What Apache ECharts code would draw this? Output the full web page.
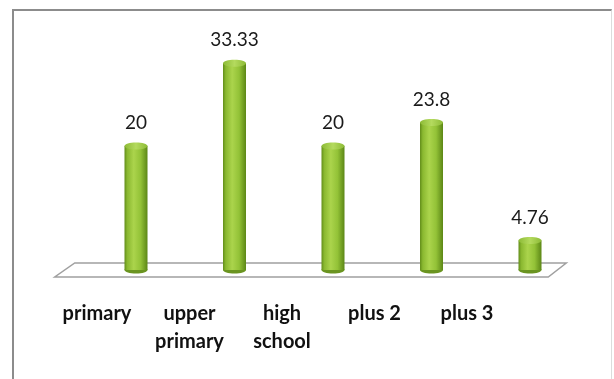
<!DOCTYPE html>
<html>
<head>
<meta charset="utf-8">
<script src="https://cdn.jsdelivr.net/npm/echarts@6/dist/echarts.min.js"></script>
<style>
  html, body { margin: 0; padding: 0; background: #ffffff; }
  #wrap { position: relative; width: 614px; height: 379px; overflow: hidden; }
  #chart { position: absolute; left: 0; top: 0; width: 614px; height: 379px; }
  #frame {
    position: absolute; left: 12px; top: 9px; width: 597px; height: 400px;
    border-left: 2px solid #8c8c8c; border-top: 2px solid #8c8c8c;
    border-right: 1px solid #dcdcdc; pointer-events: none;
  }
</style>
</head>
<body>
<div id="wrap">
  <div id="chart"></div>
  <div id="frame"></div>
</div>
<script>
// Education level shares (%)
const categories = ['primary', 'upper\nprimary', 'high\nschool', 'plus 2', 'plus 3'];
const values = [20, 33.33, 20, 23.8, 4.76];
const valueLabels = ['20', '33.33', '20', '23.8', '4.76'];

const chart = echarts.init(document.getElementById('chart'), null, { renderer: 'canvas' });

// Cylinder column: shaded body, dark base ellipse, light top ellipse, value text
function renderCylinder(params, api) {
  const idx = api.value(0);
  const top = api.coord([idx, api.value(1)]);
  const base = api.coord([idx, 0]);
  const w = 23;
  const ry = 3.5;
  const x = top[0] - w / 2;
  const bodyGrad = new echarts.graphic.LinearGradient(0, 0, 1, 0, [
    { offset: 0, color: '#628d1a' },
    { offset: 0.12, color: '#8ab830' },
    { offset: 0.4, color: '#abd44c' },
    { offset: 0.7, color: '#93c237' },
    { offset: 1, color: '#5c8716' }
  ]);
  return {
    type: 'group',
    children: [
      {
        type: 'ellipse',
        shape: { cx: base[0], cy: base[1], rx: w / 2, ry: ry },
        style: { fill: '#6a9420' }
      },
      {
        type: 'rect',
        shape: { x: x, y: top[1], width: w, height: base[1] - top[1] },
        style: { fill: bodyGrad }
      },
      {
        type: 'ellipse',
        shape: { cx: top[0], cy: top[1], rx: w / 2, ry: ry },
        style: {
          fill: new echarts.graphic.LinearGradient(0, 0, 1, 0, [
            { offset: 0, color: '#8dbb36' },
            { offset: 0.5, color: '#b4da5e' },
            { offset: 1, color: '#8dbb36' }
          ])
        }
      },
      {
        type: 'text',
        style: {
          x: top[0], y: top[1] - 23,
          text: valueLabels[idx],
          fill: '#1a1a1a',
          font: '19px Lato, "Open Sans", sans-serif',
          align: 'center', verticalAlign: 'middle'
        }
      }
    ]
  };
}

// Perspective floor under the columns
function renderFloor(params, api) {
  const cs = params.coordSys;
  const y0 = api.coord([0, 0])[1];
  const x0 = cs.x, x1 = cs.x + cs.width;
  return {
    type: 'polygon',
    shape: {
      points: [
        [x0 - 12, y0 - 7], [x1 - 13, y0 - 7],
        [x1 - 31, y0 + 7], [x0 - 32, y0 + 7]
      ]
    },
    style: { fill: '#ffffff', stroke: '#a0a0a0', lineWidth: 1.5 }
  };
}

const barData = values.map((v, i) => [i, v]);

chart.setOption({
  animation: false,
  backgroundColor: '#ffffff',
  grid: [
    { left: 86.75, right: 614 - 579.25, top: 22, bottom: 109 },
    { left: 50.75, right: 614 - 513.25, top: 22, bottom: 79 }
  ],
  xAxis: [
    {
      type: 'category', gridIndex: 0, data: categories,
      axisLine: { show: false }, axisTick: { show: false },
      axisLabel: { show: false }, splitLine: { show: false }
    },
    {
      type: 'category', gridIndex: 1, data: categories,
      axisLine: { show: false }, axisTick: { show: false },
      axisLabel: {
        margin: 0, color: '#111111', fontWeight: 'bold', fontSize: 20,
        fontFamily: 'Lato, "Open Sans", sans-serif', lineHeight: 28,
        verticalAlign: 'top'
      }
    }
  ],
  yAxis: [
    { type: 'value', gridIndex: 0, min: 0, max: 40, show: false },
    { type: 'value', gridIndex: 1, min: 0, max: 40, show: false }
  ],
  series: [
    {
      type: 'custom', xAxisIndex: 0, yAxisIndex: 0,
      renderItem: renderFloor, data: [[0, 0]], silent: true, z: 1
    },
    {
      type: 'custom', xAxisIndex: 0, yAxisIndex: 0,
      renderItem: renderCylinder, data: barData, z: 2
    }
  ]
});
</script>
</body>
</html>
